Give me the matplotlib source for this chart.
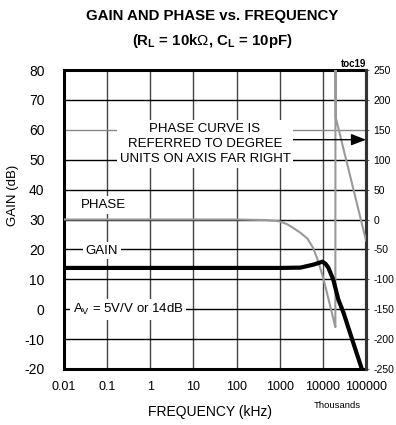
import matplotlib
matplotlib.use("Agg")
import matplotlib.pyplot as plt
from matplotlib import font_manager

# ---------------- data ----------------
gain_freq_khz = [0.01, 0.1, 1, 10, 100, 1000, 3000, 6000, 8500, 9800, 11500, 13400, 17500, 23000, 30000, 50000, 80000]
gain_db = [13.8, 13.8, 13.8, 13.8, 13.8, 13.8, 13.9, 14.9, 15.6, 15.9, 15.2, 13.9, 9.8, 3.1, -1.1, -11.0, -20.0]

phase_freq_khz = [0.01, 0.1, 1, 10, 100, 500, 1000, 1500, 2040, 3000, 4400, 6000, 7800, 10200, 13400, 17500, 19500, 19600, 20000, 100000]
phase_deg = [0, 0, 0, 0, 0, -1, -3, -8, -14, -22, -32, -48, -70, -98, -132, -166, -180, 300, 170, -35]

x_ticks = [0.01, 0.1, 1, 10, 100, 1000, 10000, 100000]
x_tick_labels = ["0.01", "0.1", "1", "10", "100", "1000", "10000", "100000"]
gain_ticks = [-20, -10, 0, 10, 20, 30, 40, 50, 60, 70, 80]
phase_ticks = [-250, -200, -150, -100, -50, 0, 50, 100, 150, 200, 250]

# ---------------- fonts ----------------
names = {f.name for f in font_manager.fontManager.ttflist}
base = "Liberation Sans" if "Liberation Sans" in names else "DejaVu Sans"
plt.rcParams['font.family'] = [base, 'DejaVu Sans']
plt.rcParams['axes.unicode_minus'] = False
plt.rcParams['mathtext.fontset'] = 'custom'
plt.rcParams['mathtext.rm'] = base
plt.rcParams['mathtext.it'] = base
plt.rcParams['mathtext.bf'] = base + ':bold'

W, H = 396, 425
fig = plt.figure(figsize=(W / 100, H / 100), dpi=100)
L, R, T, B = 64, 366, 70, 369
ax = fig.add_axes([L / W, 1 - B / H, (R - L) / W, (B - T) / H])
ax.set_xscale('log')
ax.set_xlim(0.01, 100000)
ax.set_ylim(-20, 80)
ax2 = ax.twinx()
ax2.set_ylim(-250, 250)

# grid
ax.vlines(x_ticks[1:-1], -20, 80, colors='#444444', lw=1.0, zorder=1)
for yv in gain_ticks[1:-1]:
    ax.axhline(yv, color='#888888' if yv == 60 else 'black', lw=1.0, zorder=1)

ax.set_xticks(x_ticks)
ax.set_xticklabels(x_tick_labels)
ax.xaxis.set_minor_locator(matplotlib.ticker.NullLocator())
ax.set_yticks(gain_ticks)
ax.tick_params(axis='both', length=0)
ax.tick_params(axis='y', pad=14, labelsize=10)
ax.tick_params(axis='x', pad=9, labelsize=9)
for s in ax.spines.values():
    s.set_linewidth(2.2)
    s.set_color('black')

ax2.set_yticks(phase_ticks)
ax2.set_yticklabels([str(v) for v in phase_ticks], fontsize=7.5)
ax2.tick_params(axis='y', length=2.5, width=0.8, color='#666666', pad=3)
ax2.spines['right'].set_linewidth(2.2)
ax2.spines['right'].set_color('#333333')
for k in ['left', 'top', 'bottom']:
    ax2.spines[k].set_visible(False)

# phase curve (right axis) and gain curve
ax2.plot(phase_freq_khz, phase_deg, color='#999999', lw=1.5, zorder=3)
ax2.plot(gain_freq_khz, [(g - 30) * 5 for g in gain_db], color='black', lw=3.0, zorder=4,
         solid_capstyle='butt')

box = dict(facecolor='white', edgecolor='none', pad=2)
ax2.text(0.024, (34.8 - 30) * 5, "PHASE", fontsize=9.5, ha='left', va='center', bbox=box, zorder=5)
ax2.text(0.032, (19.6 - 30) * 5, "GAIN", fontsize=9.5, ha='left', va='center', bbox=box, zorder=5)
ax2.text(0.016, (0 - 30) * 5, r"A$_\mathregular{V}$ = 5V/V or 14dB", fontsize=9.5, ha='left', va='center',
         bbox=box, zorder=5)
ax2.annotate("", xy=(100000, (56.7 - 30) * 5), xytext=(1700, (56.7 - 30) * 5),
             arrowprops=dict(arrowstyle='-|>,head_length=0.9,head_width=0.35', color='black', lw=1.0,
                             shrinkA=0, shrinkB=0), zorder=5)
ax2.text(18.6, (55.3 - 30) * 5, "PHASE CURVE IS\nREFERRED TO DEGREE\nUNITS ON AXIS FAR RIGHT",
         fontsize=9.5, ha='center', va='center', linespacing=1.35,
         bbox=dict(facecolor='white', edgecolor='none', pad=2), zorder=6)

ax2.text(1.0, 1.004, "toc19", transform=ax2.transAxes, ha='right', va='bottom', fontsize=7,
         fontweight='bold')

fig.text(212 / W, 1 - 16 / H, "GAIN AND PHASE vs. FREQUENCY", ha='center', va='center',
         fontsize=10.8, fontweight='bold')
fig.text(212 / W, 1 - 41 / H, r"(R$_\mathregular{L}$ = 10k$\Omega$, C$_\mathregular{L}$ = 10pF)",
         ha='center', va='center', fontsize=10.8, fontweight='bold')
fig.text(210 / W, 1 - 412 / H, "FREQUENCY (kHz)", ha='center', va='center', fontsize=10)
fig.text(337 / W, 1 - 405 / H, "Thousands", ha='center', va='center', fontsize=6.8)
fig.text(13 / W, 1 - 195 / H, "GAIN (dB)", ha='center', va='center', rotation=90, fontsize=9.5)

fig.savefig("out.png", dpi=100)
